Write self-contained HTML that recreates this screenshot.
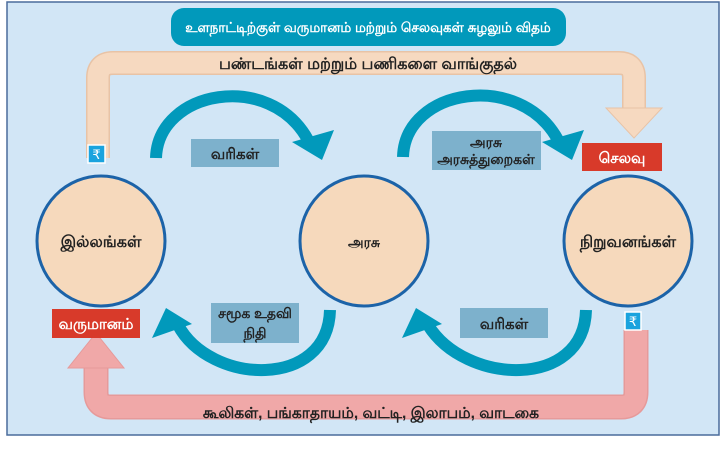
<!DOCTYPE html>
<html><head><meta charset="utf-8"><style>
html,body{margin:0;padding:0;background:#fff;}
body{width:727px;height:451px;overflow:hidden;font-family:"Liberation Sans","Noto Sans CJK SC",sans-serif;}
</style></head><body>
<svg width="727" height="451" viewBox="0 0 727 451" xmlns="http://www.w3.org/2000/svg" style="font-family:'Liberation Sans','Noto Sans CJK SC',sans-serif">
<rect x="7" y="2" width="712" height="433" fill="#d2e6f6" stroke="#4a6c9c" stroke-width="1.5"/>
<rect x="171" y="8" width="395" height="38" rx="13" fill="#0199bb"/>
<text x="368" y="32" text-anchor="middle" font-size="13.5" font-weight="bold" fill="#fff">உளநாட்டிற்குள் வருமானம் மற்றும் செலவுகள் சுழலும் விதம்</text>
<path d="M98,158 L98,78 Q98,63 113,63 L619,63 Q634,63 634,78 L634,112" fill="none" stroke="#e8c3a6" stroke-width="24"/>
<path d="M98,158 L98,78 Q98,63 113,63 L619,63 Q634,63 634,78 L634,112" fill="none" stroke="#f6d9c0" stroke-width="21"/>
<polygon points="606,108 662,108 634,138" fill="#f6d9c0" stroke="#e8c3a6"/>
<text x="368" y="69" text-anchor="middle" font-size="16" font-weight="bold" fill="#222">பண்டங்கள் மற்றும் பணிகளை வாங்குதல்</text>
<rect x="88" y="145" width="17" height="18" fill="#1aa3de" stroke="#fff" stroke-width="1.5"/>
<text x="96.5" y="159" text-anchor="middle" font-size="13" fill="#fff">₹</text>
<path d="M636,330 L636,392 Q636,407 621,407 L111,407 Q96,407 96,392 L96,366" fill="none" stroke="#e69a9a" stroke-width="25"/>
<path d="M636,330 L636,392 Q636,407 621,407 L111,407 Q96,407 96,392 L96,366" fill="none" stroke="#f0a8a8" stroke-width="22"/>
<polygon points="68,368 124,368 96,333" fill="#f0a8a8" stroke="#e69a9a"/>
<text x="371" y="418" text-anchor="middle" font-size="15.5" font-weight="bold" fill="#222">கூலிகள், பங்காதாயம், வட்டி, இலாபம், வாடகை</text>
<rect x="625" y="312" width="16" height="18" fill="#1aa3de" stroke="#fff" stroke-width="1.5"/>
<text x="633" y="326" text-anchor="middle" font-size="13" fill="#fff">₹</text>
<ellipse cx="101" cy="241" rx="64" ry="65" fill="#f6d9bc" stroke="#1c63a8" stroke-width="3"/>
<ellipse cx="364" cy="241" rx="64" ry="65" fill="#f6d9bc" stroke="#1c63a8" stroke-width="3"/>
<ellipse cx="628" cy="241" rx="64" ry="65" fill="#f6d9bc" stroke="#1c63a8" stroke-width="3"/>
<text x="101" y="247" text-anchor="middle" font-size="16" font-weight="bold" fill="#222">இல்லங்கள்</text>
<text x="364" y="247" text-anchor="middle" font-size="14" font-weight="bold" fill="#222">அரசு</text>
<text x="628" y="247" text-anchor="middle" font-size="16" font-weight="bold" fill="#222">நிறுவனங்கள்</text>
<g fill="none" stroke="#0199bb" stroke-width="12">
<path d="M156,158 C158,90 270,70 308,140"/>
<path d="M403,157 C405,88 520,70 558,140"/>
<path d="M330,310 C328,390 210,385 178,325"/>
<path d="M586,310 C584,390 465,385 428,325"/>
</g>
<g fill="#0199bb">
<polygon points="292,142 334,130 322,160"/>
<polygon points="542,142 584,130 572,160"/>
<polygon points="166,308 152,338 192,324"/>
<polygon points="416,308 402,338 442,324"/>
</g>
<rect x="191" y="139" width="88" height="28" fill="#7db1cc"/>
<text x="235" y="159" text-anchor="middle" font-size="15" font-weight="bold" fill="#222">வரிகள்</text>
<rect x="432" y="131" width="109" height="39" fill="#7db1cc"/>
<text x="486" y="147" text-anchor="middle" font-size="14" font-weight="bold" fill="#222">அரசு</text>
<text x="486" y="164" text-anchor="middle" font-size="14" font-weight="bold" fill="#222">அரசுத்துறைகள்</text>
<rect x="582" y="143" width="80" height="28" fill="#d83a2a"/>
<text x="622" y="163" text-anchor="middle" font-size="15" font-weight="bold" fill="#fff">செலவு</text>
<rect x="211" y="303" width="88" height="40" fill="#7db1cc"/>
<text x="255" y="318" text-anchor="middle" font-size="14" font-weight="bold" fill="#222">சமூக உதவி</text>
<text x="255" y="338" text-anchor="middle" font-size="14" font-weight="bold" fill="#222">நிதி</text>
<rect x="460" y="308" width="88" height="30" fill="#7db1cc"/>
<text x="504" y="329" text-anchor="middle" font-size="15" font-weight="bold" fill="#222">வரிகள்</text>
<rect x="52" y="309" width="88" height="29" fill="#d83a2a"/>
<text x="96" y="329" text-anchor="middle" font-size="15" font-weight="bold" fill="#fff">வருமானம்</text>
</svg>
</body></html>
